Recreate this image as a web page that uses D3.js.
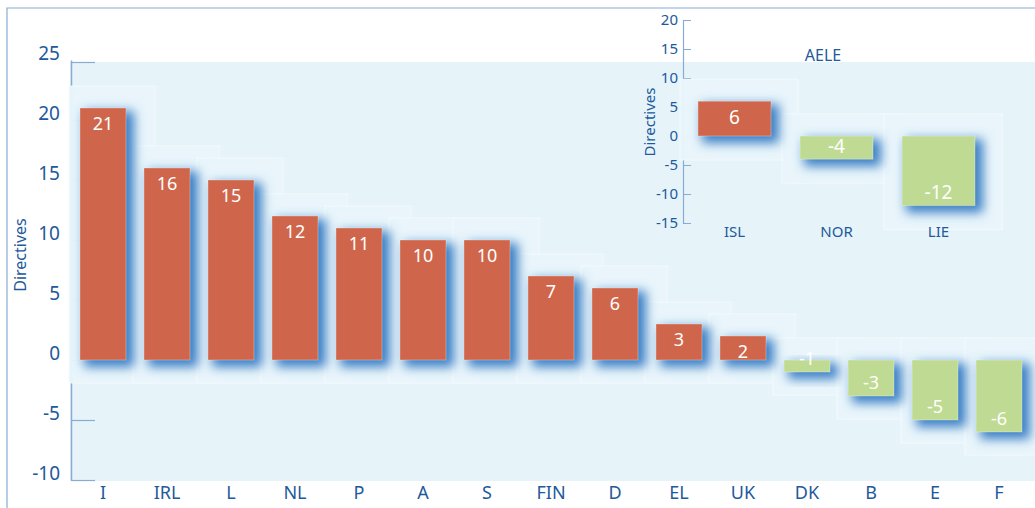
<!DOCTYPE html>
<html>
<head>
<meta charset="utf-8">
<script src="https://cdn.jsdelivr.net/npm/d3@7"></script>
<style>
  body { margin: 0; background: #fff; }
  text { font-family: 'Noto Sans', sans-serif; }
</style>
</head>
<body>
<div id="chart"></div>
<script>
// EU member states
var countries = ['I', 'IRL', 'L', 'NL', 'P', 'A', 'S', 'FIN', 'D', 'EL', 'UK', 'DK', 'B', 'E', 'F']
var directives = [21, 16, 15, 12, 11, 10, 10, 7, 6, 3, 2, -1, -3, -5, -6]
var mainTicks = [-10, -5, 0, 5, 10, 15, 20, 25]

// AELE inset
var aeleCountries = ['ISL', 'NOR', 'LIE']
var aeleDirectives = [6, -4, -12]
var aeleTicks = [-15, -10, -5, 0, 5, 10, 15, 20]

var width = 1035
var height = 508

var red = '#cf664b'
var green = '#bfdb93'
var textBlue = '#22599c'
var lineBlue = '#86acd3'
var panel = '#e6f4fa'

var svg = d3
  .select('#chart')
  .append('svg')
  .attr('width', width)
  .attr('height', height)

var defs = svg.append('defs')
defs
  .append('filter')
  .attr('id', 'glow')
  .attr('x', '-50%')
  .attr('y', '-50%')
  .attr('width', '200%')
  .attr('height', '200%')
  .append('feGaussianBlur')
  .attr('stdDeviation', 5.5)

// frame lines
svg
  .append('path')
  .attr('d', 'M7,508 V8 H1035')
  .attr('fill', 'none')
  .attr('stroke', lineBlue)
  .attr('stroke-width', 1.2)

// light panel
svg
  .append('rect')
  .attr('x', 70)
  .attr('y', 62)
  .attr('width', width - 70)
  .attr('height', 419)
  .attr('fill', panel)

// ---------- main chart ----------
var yScale = d3.scaleLinear().domain([-10, 25]).range([480, 60])

var xScale = d3
  .scaleBand()
  .domain(countries)
  .range([71, 1031])
  .paddingInner(0.28125)
  .paddingOuter(0.140625)

var main = svg.append('g')

var yAxis = d3
  .axisLeft(yScale)
  .tickValues(mainTicks)
  .tickFormat(d => String(d))
  .tickSizeInner(-24)
  .tickSizeOuter(0)
  .tickPadding(11)

var yAxisG = main
  .append('g')
  .attr('transform', 'translate(71,0)')
  .call(yAxis)
yAxisG.select('.domain').attr('stroke', lineBlue).attr('stroke-width', 1.5)
yAxisG.selectAll('.tick line').attr('stroke', lineBlue).attr('stroke-width', 1.2)
yAxisG
  .selectAll('.tick text')
  .attr('fill', textBlue)
  .attr('font-size', 19)
  .attr('dy', '-0.05em')
yAxisG.selectAll('.tick').filter(d => d === 25).select('line').attr('transform', 'translate(0,2)')

main
  .append('text')
  .attr('transform', 'translate(26,255) rotate(-90)')
  .attr('text-anchor', 'middle')
  .attr('fill', textBlue)
  .attr('font-size', 16)
  .text('Directives')

var mainData = countries.map((c, i) => ({ name: c, value: directives[i] }))

function drawBars(g, data, x, y, halo) {
  // faint lighter boxes around each bar
  g.selectAll('.halo')
    .data(data)
    .enter()
    .append('rect')
    .attr('class', 'halo')
    .attr('x', d => x(d.name) - halo.left)
    .attr('y', d => Math.min(y(d.value), y(0)) - halo.top)
    .attr('width', x.bandwidth() + halo.left + halo.right)
    .attr('height', d => Math.abs(y(d.value) - y(0)) + halo.top + halo.bottom)
    .attr('fill', '#e8f5fb')
    .attr('fill-opacity', 0.97)
    .attr('stroke', '#f4fbfe')
    .attr('stroke-opacity', 0.8)

  // blue blurred shadow
  g.selectAll('.shadow')
    .data(data)
    .enter()
    .append('rect')
    .attr('class', 'shadow')
    .attr('x', d => x(d.name) + 4)
    .attr('y', d => Math.min(y(d.value), y(0)) + 3)
    .attr('width', x.bandwidth() + 4)
    .attr('height', d => Math.abs(y(d.value) - y(0)) + 4)
    .attr('fill', '#3b7fc4')
    .attr('opacity', 1)
    .attr('filter', 'url(#glow)')

  g.selectAll('.bar')
    .data(data)
    .enter()
    .append('rect')
    .attr('class', 'bar')
    .attr('x', d => x(d.name))
    .attr('y', d => Math.min(y(d.value), y(0)))
    .attr('width', x.bandwidth())
    .attr('height', d => Math.abs(y(d.value) - y(0)))
    .attr('fill', d => (d.value >= 0 ? red : green))
    .attr('stroke', '#ffffff')
    .attr('stroke-opacity', 0.3)

  g.selectAll('.value')
    .data(data)
    .enter()
    .append('text')
    .attr('class', 'value')
    .attr('x', d => x(d.name) + x.bandwidth() / 2)
    .attr('y', d => (d.value >= 0 ? y(d.value) + 16 : y(d.value) - 13))
    .attr('dy', '0.35em')
    .attr('text-anchor', 'middle')
    .attr('fill', '#ffffff')
    .attr('font-size', 18)
    .text(d => d.value)
}

drawBars(main, mainData, xScale, yScale, { left: 11, right: 29, top: 22, bottom: 23 })

main
  .selectAll('.cat')
  .data(countries)
  .enter()
  .append('text')
  .attr('class', 'cat')
  .attr('x', d => xScale(d) + xScale.bandwidth() / 2)
  .attr('y', 493)
  .attr('dy', '0.35em')
  .attr('text-anchor', 'middle')
  .attr('fill', textBlue)
  .attr('font-size', 18)
  .text(d => d)

// ---------- AELE inset ----------
var yInset = d3.scaleLinear().domain([-15, 20]).range([223, 20])

var xInset = d3
  .scaleBand()
  .domain(aeleCountries)
  .range([683.5, 989.5])
  .paddingInner(0.284)
  .paddingOuter(0.142)

var inset = svg.append('g')

var insetAxis = d3
  .axisLeft(yInset)
  .tickValues(aeleTicks)
  .tickFormat(d => String(d))
  .tickSizeInner(-8)
  .tickSizeOuter(0)
  .tickPadding(5)

var insetAxisG = inset
  .append('g')
  .attr('transform', 'translate(683,0)')
  .call(insetAxis)
insetAxisG.select('.domain').attr('stroke', lineBlue).attr('stroke-width', 1.2)
insetAxisG.selectAll('.tick line').attr('stroke', lineBlue)
insetAxisG
  .selectAll('.tick text')
  .attr('fill', textBlue)
  .attr('font-size', 15)

inset
  .append('text')
  .attr('transform', 'translate(655,122) rotate(-90)')
  .attr('text-anchor', 'middle')
  .attr('fill', textBlue)
  .attr('font-size', 15)
  .text('Directives')

inset
  .append('text')
  .attr('x', 823)
  .attr('y', 55)
  .attr('dy', '0.35em')
  .attr('text-anchor', 'middle')
  .attr('fill', textBlue)
  .attr('font-size', 16)
  .text('AELE')

var insetData = aeleCountries.map((c, i) => ({ name: c, value: aeleDirectives[i] }))

drawBars(inset, insetData, xInset, yInset, { left: 18, right: 27, top: 22, bottom: 24 })
inset.selectAll('.value').attr('font-size', 19)

inset
  .selectAll('.cat')
  .data(aeleCountries)
  .enter()
  .append('text')
  .attr('class', 'cat')
  .attr('x', d => xInset(d) + xInset.bandwidth() / 2)
  .attr('y', 232)
  .attr('dy', '0.35em')
  .attr('text-anchor', 'middle')
  .attr('fill', textBlue)
  .attr('font-size', 15)
  .text(d => d)
</script>
</body>
</html>
